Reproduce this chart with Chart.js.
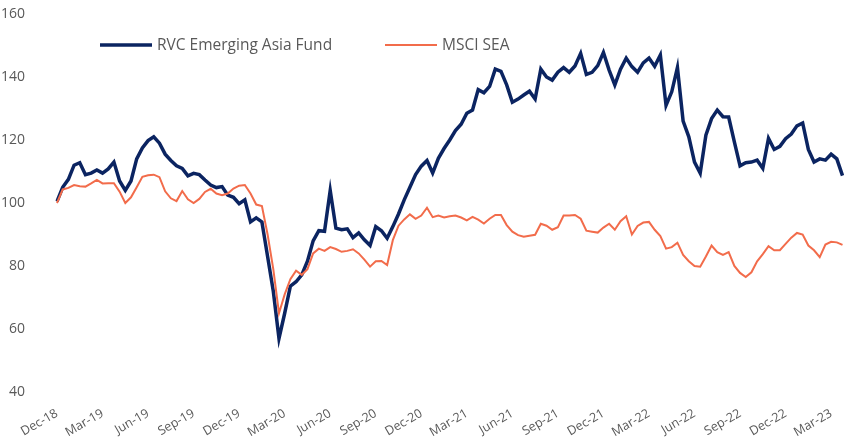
<!DOCTYPE html>
<html>
<head>
<meta charset="utf-8">
<script src="https://cdn.jsdelivr.net/npm/chart.js@4/dist/chart.umd.min.js"></script>
<style>
    body { margin: 0; background: #fff; }
    #wrap { width: 856px; height: 446px; }
</style>
</head>
<body>
<div id="wrap"><canvas id="perfChart"></canvas></div>
<script>
// Etiquetas trimestrales del eje X
const quarterTicks = ['Dec-18', 'Mar-19', 'Jun-19', 'Sep-19', 'Dec-19', 'Mar-20', 'Jun-20', 'Sep-20', 'Dec-20',
    'Mar-21', 'Jun-21', 'Sep-21', 'Dec-21', 'Mar-22', 'Jun-22', 'Sep-22', 'Dec-22', 'Mar-23'];
const pointsPerQuarter = 8;

// RVC Emerging Asia Fund (base 100)
const fund = [
    100.5, 105, 107.5, 112, 112.8, 109, 109.5, 110.5,
    109.5, 110.8, 113, 107, 104, 107, 114, 117.5,
    119.8, 121, 119, 115.5, 113.5, 111.8, 111, 108.6,
    109.4, 109, 107.3, 105.7, 104.9, 105.2, 102.5, 101.8,
    99.8, 101, 94, 95.3, 94, 83, 72, 57,
    65, 73.6, 75, 77.2, 81.5, 88, 91.2, 91,
    104, 92, 91.5, 91.8, 89, 90.5, 88.3, 86.5,
    92.5, 91.2, 88.8, 92.5, 96.5, 101, 105, 109,
    111.7, 113.5, 109.5, 114.2, 117.3, 120, 123, 125,
    128.5, 129.5, 136, 135, 137, 142.5, 141.8, 137.5,
    132, 133, 134.3, 135.5, 133, 142.5, 140, 139,
    141.5, 143, 141.5, 143.5, 147.5, 140.8, 141.5, 143.6,
    147.8, 142.2, 137.5, 142.5, 146, 143.3, 141.5, 144.5,
    146, 143.4, 147, 131, 135.3, 143, 126, 121,
    113, 109.5, 121.5, 126.8, 129.5, 127.4, 127.3, 119.4,
    111.8, 112.8, 113, 113.6, 111, 120.5, 117, 118,
    120.4, 121.9, 124.5, 125.4, 117, 113, 114, 113.6,
    115.5, 114, 108.7
];

// MSCI SEA (base 100)
const msci = [
    100, 104.3, 104.8, 105.7, 105.3, 105.2, 106.2, 107.3,
    106.2, 106.3, 106.3, 103.6, 100, 101.8, 105, 108.3,
    108.8, 109, 108.2, 103.7, 101.5, 100.6, 103.8, 101.2,
    100, 101.3, 103.5, 104.5, 103, 102.5, 103, 104.6,
    105.5, 105.7, 103, 99.5, 99, 90, 79, 65,
    71, 75.8, 78.5, 77.2, 79, 84, 85.5, 84.8,
    86, 85.4, 84.5, 84.8, 85.3, 84, 82, 79.8,
    81.5, 81.6, 80.3, 88.2, 92.8, 94.8, 96.4, 95,
    96, 98.5, 95.5, 96, 95.4, 95.8, 96, 95.4,
    94.5, 95.6, 94.7, 93.5, 95, 96.2, 96.2, 93,
    90.9, 89.8, 89.3, 89.6, 89.9, 93.4, 92.8, 91.5,
    92.3, 96, 96, 96.2, 95, 91.2, 90.9, 90.6,
    92.2, 93.4, 91.5, 94.2, 95.8, 90, 92.7, 93.8,
    94, 91.5, 89.5, 85.5, 86, 87.4, 83.5, 81.5,
    80, 79.8, 83, 86.5, 84.4, 83.5, 84.4, 80,
    77.8, 76.5, 78, 81.5, 83.8, 86.3, 85, 85,
    87, 89, 90.5, 90, 86.5, 85, 82.8, 86.8,
    87.7, 87.5, 86.7
];

const yTicks = [40, 60, 80, 100, 120, 140, 160];

const NAVY = '#0b2461';
const ORANGE = '#f26c4b';
const GREY = '#595959';
const FONT = "'Open Sans', sans-serif";

// Etiquetas del eje: solo una por trimestre
const labels = fund.map((v, i) => (i % pointsPerQuarter === 0 ? quarterTicks[i / pointsPerQuarter] : ''));

// Leyenda dibujada dentro del área del gráfico
const insideLegend = {
    id: 'insideLegend',
    afterDraw(chart) {
        const ctx = chart.ctx;
        const area = chart.chartArea;
        const y = 45;
        const starts = [area.left + 43, area.left + 328];
        ctx.save();
        chart.data.datasets.forEach((ds, i) => {
            const x = starts[i];
            ctx.strokeStyle = ds.borderColor;
            ctx.lineWidth = ds.borderWidth;
            ctx.beginPath();
            ctx.moveTo(x, y);
            ctx.lineTo(x + 52, y);
            ctx.stroke();
            ctx.fillStyle = GREY;
            ctx.font = '15.5px ' + FONT;
            ctx.textBaseline = 'middle';
            ctx.fillText(ds.label, x + 57, y + 1);
        });
        ctx.restore();
    }
};

new Chart(document.getElementById('perfChart'), {
    type: 'line',
    data: {
        labels: labels,
        datasets: [{
            label: 'RVC Emerging Asia Fund',
            data: fund,
            borderColor: NAVY,
            borderWidth: 3.5,
            pointRadius: 0,
            order: 1
        }, {
            label: 'MSCI SEA',
            data: msci,
            borderColor: ORANGE,
            borderWidth: 2,
            pointRadius: 0,
            order: 0
        }]
    },
    options: {
        responsive: true,
        maintainAspectRatio: false,
        animation: false,
        layout: { padding: { top: 14, right: 9, bottom: 0, left: 0 } },
        plugins: {
            legend: { display: false },
            tooltip: { enabled: false }
        },
        scales: {
            x: {
                grid: { display: false },
                border: { display: false },
                afterFit: s => { s.height = 54; },
                ticks: {
                    autoSkip: false,
                    minRotation: 30,
                    maxRotation: 30,
                    padding: 6,
                    color: GREY,
                    font: { family: FONT, size: 12.5 }
                }
            },
            y: {
                min: 40,
                max: 160,
                grid: { display: false },
                border: { display: false },
                afterFit: s => { s.width = 57; s.paddingTop = 0; },
                afterBuildTicks: s => { s.ticks = yTicks.map(v => ({ value: v })); },
                ticks: {
                    padding: 24,
                    color: GREY,
                    font: { family: FONT, size: 14 }
                }
            }
        }
    },
    plugins: [insideLegend]
});
</script>
</body>
</html>
